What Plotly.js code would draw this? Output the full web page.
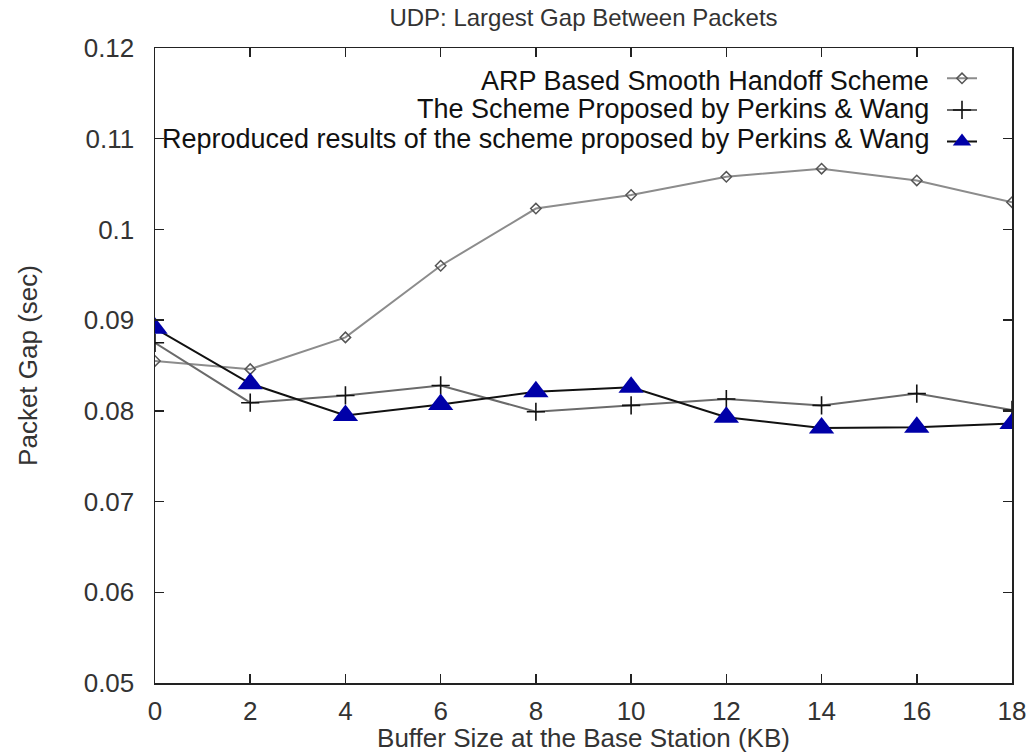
<!DOCTYPE html>
<html>
<head>
<meta charset="utf-8">
<script src="https://cdn.plot.ly/plotly-3.0.1.min.js"></script>
<style>html,body{margin:0;padding:0;background:#fff;}#chart{width:1035px;height:753px;}</style>
</head>
<body>
<div id="chart"></div>
<script>
const bufferSizes = [0, 2, 4, 6, 8, 10, 12, 14, 16, 18];
const arpScheme = [0.0855, 0.0846, 0.0881, 0.0960, 0.1023, 0.1038, 0.1058, 0.1067, 0.1054, 0.1030];
const perkinsWang = [0.0875, 0.0809, 0.0817, 0.0828, 0.0799, 0.0806, 0.0813, 0.0806, 0.0819, 0.0801];
const reproduced = [0.0891, 0.0830, 0.0795, 0.0807, 0.0821, 0.0826, 0.0793, 0.0781, 0.0782, 0.0786];
const seriesNames = [
  'ARP Based Smooth Handoff Scheme',
  'The Scheme Proposed by Perkins & Wang',
  'Reproduced results of the scheme proposed by Perkins & Wang'
];
const legendRowsY = [0.948, 0.904, 0.857];

const font = 'Liberation Sans, Arial, sans-serif';
const traces = [
  {x: bufferSizes, y: arpScheme, name: ' ', mode: 'lines+markers',
   line: {color: '#8c8c8c', width: 2},
   marker: {symbol: 'diamond-open', size: 8, color: '#555', line: {width: 1.5, color: '#555'}}},
  {x: bufferSizes, y: perkinsWang, name: ' ', mode: 'lines+markers',
   line: {color: '#6a6a6a', width: 2},
   marker: {symbol: 'cross-thin-open', size: 13, color: '#111', line: {width: 1.6, color: '#111'}}},
  {x: bufferSizes, y: reproduced, name: ' ', mode: 'lines+markers',
   line: {color: '#111', width: 2},
   marker: {symbol: 'triangle-up', size: 22, color: '#0000a8', line: {width: 0}}}
];

const annotations = seriesNames.map((t, i) => ({
  text: t, xref: 'paper', yref: 'paper', x: 0.905, y: legendRowsY[i],
  xanchor: 'right', yanchor: 'middle', showarrow: false,
  font: {family: font, size: 27, color: '#111'}
}));

const axisCommon = {
  showline: true, mirror: 'ticks', linecolor: '#222', linewidth: 1.5,
  ticks: 'inside', ticklen: 9, tickwidth: 1.5, tickcolor: '#222',
  showgrid: false, zeroline: false,
  tickfont: {family: font, size: 26, color: '#333'}
};

const layout = {
  width: 1035, height: 753,
  margin: {l: 155, r: 23, t: 48, b: 70},
  paper_bgcolor: '#fff', plot_bgcolor: '#fff',
  title: {text: 'UDP: Largest Gap Between Packets', font: {family: font, size: 24, color: '#333'},
          x: 0.5, xref: 'paper', y: 0.988, yanchor: 'top'},
  xaxis: Object.assign({}, axisCommon, {
    range: [0, 18], tickvals: bufferSizes, ticktext: bufferSizes.map(String),
    ticklabelstandoff: 4,
    title: {text: 'Buffer Size at the Base Station (KB)', font: {family: font, size: 26, color: '#333'}, standoff: 2}
  }),
  yaxis: Object.assign({}, axisCommon, {
    range: [0.05, 0.12], dtick: 0.01, tick0: 0.05,
    ticklabelstandoff: 14,
    title: {text: 'Packet Gap (sec)', font: {family: font, size: 26, color: '#333'}, standoff: 38}
  }),
  legend: {x: 0.979, xanchor: 'right', y: 0.985, yanchor: 'top', bgcolor: 'rgba(0,0,0,0)',
           font: {family: font, size: 22, color: '#111'}, tracegroupgap: 0, itemwidth: 30},
  annotations: annotations,
  showlegend: true
};

Plotly.newPlot('chart', traces, layout, {displayModeBar: false, staticPlot: true});
</script>
</body>
</html>
